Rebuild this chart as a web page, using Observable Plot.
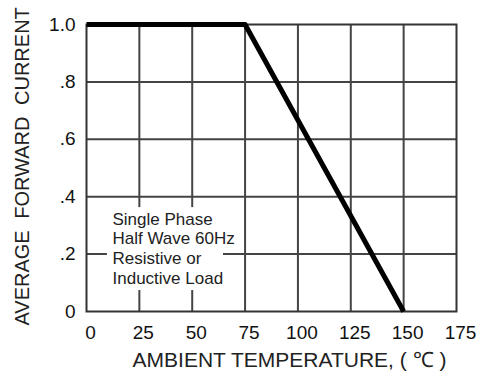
<!DOCTYPE html>
<html>
<head>
<meta charset="utf-8">
<script src="https://cdn.jsdelivr.net/npm/d3@7"></script>
<script src="https://cdn.jsdelivr.net/npm/@observablehq/plot@0.6"></script>
<style>
  html, body { margin: 0; padding: 0; background: white; }
  #chart { width: 480px; height: 373px; overflow: hidden; }
  .ylab text { word-spacing: 6px; }
</style>
</head>
<body>
<div id="chart"></div>
<script>
// Data
const temperatureC = [0, 75, 150];
const forwardCurrent = [1.0, 1.0, 0];
const xTicks = [0, 25, 50, 75, 100, 125, 150, 175];
const yTicks = [0, 0.2, 0.4, 0.6, 0.8, 1.0];
const yTickLabels = ["0", ".2", ".4", ".6", ".8", "1.0"];
const noteLines = ["Single Phase", "Half Wave 60Hz", "Resistive or", "Inductive Load"];
const noteBox = {x1: 9.9, x2: 64.8, y1: 0.073, y2: 0.362};
const noteAnchor = {x: 12.3, y: 0.352};
const xLabel = "AMBIENT TEMPERATURE, ( \u2103 )";
const yLabel = "AVERAGE FORWARD CURRENT";

const curve = temperatureC.map((t, i) => ({t, a: forwardCurrent[i]}));
const font = "'Liberation Sans', Arial, Helvetica, sans-serif";

const chart = Plot.plot({
  width: 480,
  height: 373,
  marginLeft: 86,
  marginRight: 24,
  marginTop: 24,
  marginBottom: 62,
  style: {fontFamily: font, fontSize: "19px", background: "white", color: "#111"},
  x: {domain: [0, 175], label: null},
  y: {domain: [0, 1], label: null},
  marks: [
    Plot.ruleX(xTicks.slice(1, -1), {stroke: "#444", strokeWidth: 2}),
    Plot.ruleY(yTicks.slice(1, -1), {stroke: "#444", strokeWidth: 2}),
    Plot.frame({stroke: "#333", strokeWidth: 2}),
    Plot.rect([noteBox], {x1: "x1", x2: "x2", y1: "y1", y2: "y2", fill: "white"}),
    Plot.text([noteLines.join("\n")], {
      x: noteAnchor.x, y: noteAnchor.y, text: d => d,
      textAnchor: "start", lineAnchor: "top", lineHeight: 1.17,
      fontSize: 17, fill: "#222"
    }),
    Plot.line(curve, {x: "t", y: "a", stroke: "black", strokeWidth: 5, strokeLinecap: "butt"}),
    Plot.axisX(xTicks, {tickSize: 0, tickPadding: 14, dx: 4, fontSize: 19, label: null}),
    Plot.axisY(yTicks, {
      tickSize: 0, tickPadding: 11, fontSize: 19, label: null,
      tickFormat: d => yTickLabels[yTicks.indexOf(d)]
    }),
    Plot.text([xLabel], {
      text: d => d, frameAnchor: "bottom", dx: 18, dy: 49,
      lineAnchor: "middle", fontSize: 21, fill: "#222"
    }),
    Plot.text([yLabel], {
      text: d => d, frameAnchor: "bottom-left", rotate: -90,
      textAnchor: "start", lineAnchor: "middle", dx: -64, dy: 14,
      fontSize: 20, fill: "#222", className: "ylab"
    })
  ]
});
document.getElementById("chart").appendChild(chart);
</script>
</body>
</html>
